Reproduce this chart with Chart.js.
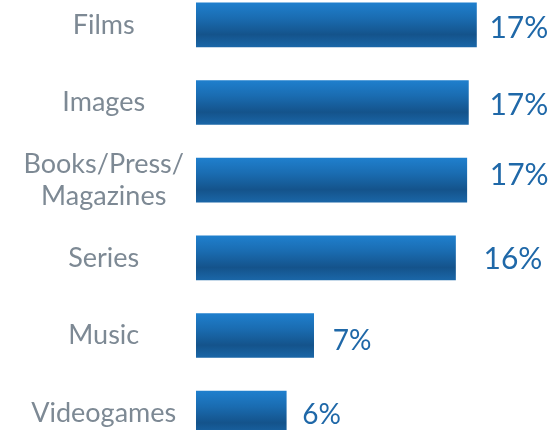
<!DOCTYPE html>
<html>
<head>
<meta charset="utf-8">
<script src="https://cdn.jsdelivr.net/npm/chart.js@4/dist/chart.umd.min.js"></script>
<style>
  html, body { margin: 0; padding: 0; background: #fff; overflow: hidden; }
  #wrap { position: relative; width: 549px; height: 430px; overflow: hidden; }
  #chart { position: absolute; left: 0; top: -14px; }
</style>
</head>
<body>
<div id="wrap">
  <canvas id="chart" width="549" height="466"></canvas>
</div>
<script>
// Share of content types (%)
const categories = ['Films', 'Images', ['Books/Press/', 'Magazines'], 'Series', 'Music', 'Videogames'];
const shares = [17.4, 16.9, 16.8, 16.1, 7.3, 5.6];

const labelColor = '#7d8994';
const valueColor = '#1f68a8';

// vertical gradient for each bar, built around the bar's own centre
function barGradient(context) {
  const chart = context.chart;
  const yScale = chart.scales.y;
  if (!chart.chartArea || !yScale) return '#1a64a2';
  const c = yScale.getPixelForValue(context.dataIndex);
  const g = chart.ctx.createLinearGradient(0, c - 22, 0, c + 22);
  g.addColorStop(0, '#1f7fcd');
  g.addColorStop(0.35, '#1a6cb1');
  g.addColorStop(0.72, '#14538b');
  g.addColorStop(1, '#1a66a7');
  return g;
}

// percentage text to the right of each bar
const valueLabels = {
  id: 'valueLabels',
  afterDatasetsDraw(chart, args, opts) {
    const ctx = chart.ctx;
    const meta = chart.getDatasetMeta(0);
    ctx.save();
    ctx.fillStyle = valueColor;
    ctx.textAlign = 'left';
    ctx.textBaseline = 'middle';
    meta.data.forEach((bar, i) => {
      const v = chart.data.datasets[0].data[i];
      const off = opts.offsets[i];
      ctx.font = opts.sizes[i] + 'px Lato, "Open Sans", sans-serif';
      ctx.fillText(Math.round(v) + '%', bar.x + off[0], bar.y + off[1]);
    });
    ctx.restore();
  }
};

new Chart(document.getElementById('chart'), {
  type: 'bar',
  data: {
    labels: categories,
    datasets: [{
      data: shares,
      backgroundColor: barGradient,
      borderWidth: 0,
      barThickness: 44
    }]
  },
  options: {
    indexAxis: 'y',
    responsive: false,
    animation: false,
    layout: { padding: 0 },
    plugins: {
      legend: { display: false },
      tooltip: { enabled: false },
      valueLabels: {
        sizes: [30, 30, 30, 30, 28, 28],
        offsets: [[13, 3], [21, 3], [23, -5], [28, 1], [19, 5], [16, 2]]
      }
    },
    scales: {
      x: {
        display: false,
        min: 0,
        max: 21.9
      },
      y: {
        grid: { display: false },
        border: { display: false },
        afterFit(scale) {
          scale.width = 196;
          // let the category bands use the full canvas height
          scale.paddingTop = 0;
          scale.paddingBottom = 0;
        },
        ticks: {
          crossAlign: 'center',
          padding: 4,
          color: labelColor,
          font: { family: 'Lato, "Open Sans", sans-serif', size: 27, lineHeight: 1.18 }
        }
      }
    }
  },
  plugins: [valueLabels]
});
</script>
</body>
</html>
